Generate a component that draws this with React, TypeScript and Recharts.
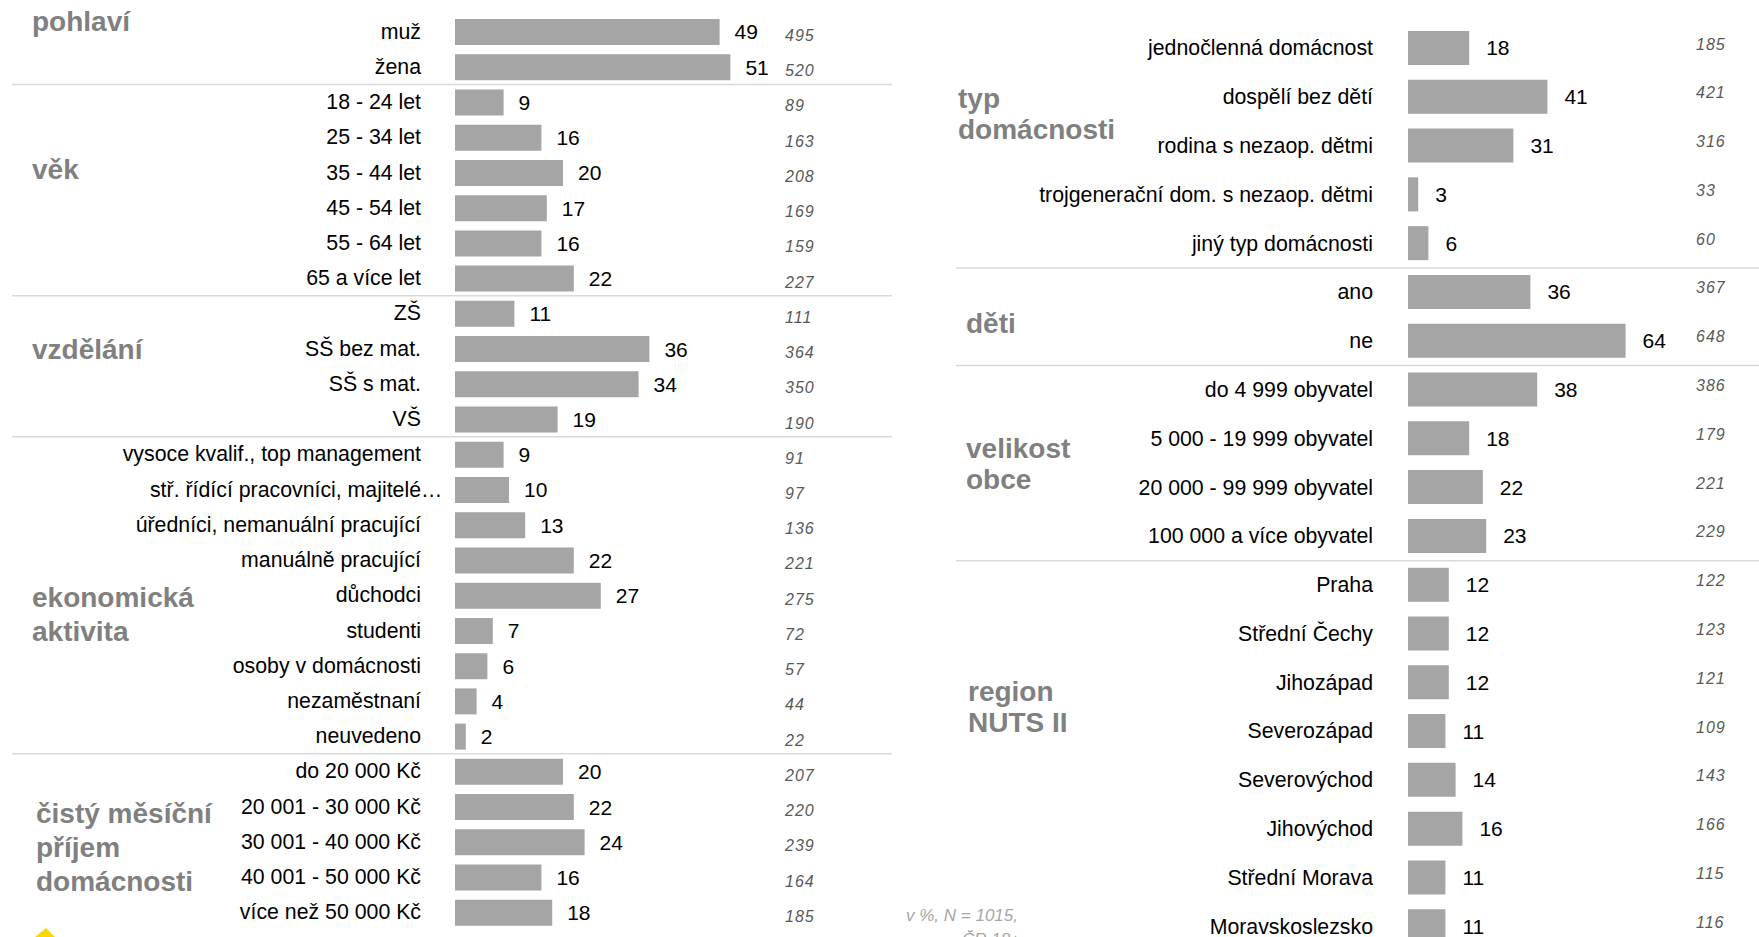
import React from 'react';
import { BarChart, Bar, XAxis, YAxis, LabelList } from 'recharts';

// ---------- DATA ----------
const leftCategories = [
  'muž', 'žena',
  '18 - 24 let', '25 - 34 let', '35 - 44 let', '45 - 54 let', '55 - 64 let', '65 a více let',
  'ZŠ', 'SŠ bez mat.', 'SŠ s mat.', 'VŠ',
  'vysoce kvalif., top management', 'stř. řídící pracovníci, majitelé…', 'úředníci, nemanuální pracující',
  'manuálně pracující', 'důchodci', 'studenti', 'osoby v domácnosti', 'nezaměstnaní', 'neuvedeno',
  'do 20 000 Kč', '20 001 - 30 000 Kč', '30 001 - 40 000 Kč', '40 001 - 50 000 Kč', 'více než 50 000 Kč',
];
const leftValues = [49, 51, 9, 16, 20, 17, 16, 22, 11, 36, 34, 19, 9, 10, 13, 22, 27, 7, 6, 4, 2, 20, 22, 24, 16, 18];
const leftCounts = [495, 520, 89, 163, 208, 169, 159, 227, 111, 364, 350, 190, 91, 97, 136, 221, 275, 72, 57, 44, 22, 207, 220, 239, 164, 185];
const leftGroupStarts = [0, 2, 8, 12, 21];
const leftGroupTitles = ['pohlaví', 'věk', 'vzdělání', 'ekonomická\naktivita', 'čistý měsíční\npříjem\ndomácnosti'];

const rightCategories = [
  'jednočlenná domácnost', 'dospělí bez dětí', 'rodina s nezaop. dětmi', 'trojgenerační dom. s nezaop. dětmi', 'jiný typ domácnosti',
  'ano', 'ne',
  'do 4 999 obyvatel', '5 000 - 19 999 obyvatel', '20 000 - 99 999 obyvatel', '100 000 a více obyvatel',
  'Praha', 'Střední Čechy', 'Jihozápad', 'Severozápad', 'Severovýchod', 'Jihovýchod', 'Střední Morava', 'Moravskoslezsko',
];
const rightValues = [18, 41, 31, 3, 6, 36, 64, 38, 18, 22, 23, 12, 12, 12, 11, 14, 16, 11, 11];
const rightCounts = [185, 421, 316, 33, 60, 367, 648, 386, 179, 221, 229, 122, 123, 121, 109, 143, 166, 115, 116];
const rightGroupStarts = [0, 5, 7, 11];
const rightGroupTitles = ['typ\ndomácnosti', 'děti', 'velikost\nobce', 'region\nNUTS II'];

const noteLines = ['v %, N = 1015,', 'ČR 18+'];

// ---------- STYLE / LAYOUT ----------
const FONT = '"Liberation Sans", Arial, Helvetica, sans-serif';
const BAR_COLOR = '#a5a5a5';
const TITLE_COLOR = '#808080';
const N_COLOR = '#595959';
const SEP_COLOR = '#d9d9d9';

const leftData = leftCategories.map((label, i) => ({ label, value: leftValues[i], n: leftCounts[i] }));
const rightData = rightCategories.map((label, i) => ({ label, value: rightValues[i], n: rightCounts[i] }));

const L = { w: 900, h: 937, top: 14, bottom: 7, right: 13, axisW: 455, labelGap: 34, nX: 330, nDy: 3.5, barSize: 26, domainMax: 80, sepX1: 12, sepX2: 892, valOffset: 15 };
const R = { w: 879, h: 960, top: 24, bottom: 9, right: 11, axisW: 528, labelGap: 35, nX: 288, nDy: -4, barSize: 34, domainMax: 100, sepX1: 76, sepX2: 879, valOffset: 17 };

function makeTick(cfg: any, n: number, groupStarts: number[]) {
  const band = (cfg.h - cfg.top - cfg.bottom) / n;
  return (props: any) => {
    const { y, payload, index } = props;
    const text: string = String(payload.value);
    const x = cfg.axisW - cfg.labelGap;
    const hasEllipsis = text.endsWith('…');
    const main = hasEllipsis ? text.slice(0, -1) : text;
    return (
      <g>
        {groupStarts.includes(index) && index !== 0 && (
          <line x1={cfg.sepX1} x2={cfg.sepX2} y1={y - band / 2} y2={y - band / 2} stroke={SEP_COLOR} strokeWidth={1.5} />
        )}
        <text x={x} y={y} textAnchor="end" dominantBaseline="central" fill="#000" fontSize={21.3} fontFamily={FONT}>
          {main}
        </text>
        {hasEllipsis && (
          <text x={x} y={y} textAnchor="start" dominantBaseline="central" fill="#000" fontSize={21.3} fontFamily={FONT}>
            …
          </text>
        )}
      </g>
    );
  };
}

function makeCount(cfg: any) {
  return (props: any) => {
    const vb = props.viewBox || props;
    const bx = vb.x ?? props.x;
    const by = vb.y ?? props.y;
    const bh = vb.height ?? props.height;
    return (
      <text
        x={bx + cfg.nX}
        y={by + bh / 2 + cfg.nDy}
        dominantBaseline="central"
        fill={N_COLOR}
        fontSize={16}
        fontStyle="italic"
        letterSpacing={1}
        fontFamily={FONT}
      >
        {props.value}
      </text>
    );
  };
}

function Panel({ cfg, data, groupStarts }: any) {
  return (
    <BarChart
      layout="vertical"
      width={cfg.w}
      height={cfg.h}
      data={data}
      margin={{ top: cfg.top, bottom: cfg.bottom, left: 0, right: cfg.right }}
    >
      <XAxis type="number" domain={[0, cfg.domainMax]} hide />
      <YAxis
        type="category"
        dataKey="label"
        width={cfg.axisW}
        axisLine={false}
        tickLine={false}
        tickSize={0}
        tickMargin={0}
        interval={0}
        tick={makeTick(cfg, data.length, groupStarts)}
      />
      <Bar dataKey="value" fill={BAR_COLOR} barSize={cfg.barSize} isAnimationActive={false}>
        <LabelList dataKey="value" position="right" offset={cfg.valOffset} fill="#000" fontSize={21} fontFamily={FONT} />
        <LabelList dataKey="n" content={makeCount(cfg)} />
      </Bar>
    </BarChart>
  );
}

const titleStyle: React.CSSProperties = {
  position: 'absolute',
  fontFamily: FONT,
  fontWeight: 'bold',
  fontSize: 28,
  color: TITLE_COLOR,
  whiteSpace: 'pre',
};

// title anchor positions (page px) per group
const leftTitlePos = [
  { left: 32, top: 5, lineHeight: '34px' },
  { left: 32, top: 153, lineHeight: '34px' },
  { left: 32, top: 333, lineHeight: '34px' },
  { left: 32, top: 581, lineHeight: '34px' },
  { left: 36, top: 797, lineHeight: '34px' },
];
const rightTitlePos = [
  { left: 958, top: 83, lineHeight: '31.4px' },
  { left: 966, top: 308, lineHeight: '31.4px' },
  { left: 966, top: 433, lineHeight: '31.4px' },
  { left: 968, top: 676, lineHeight: '31.4px' },
];

export default function App() {
  return (
    <div
      style={{
        position: 'absolute',
        left: 0,
        top: 0,
        width: 1759,
        height: 937,
        overflow: 'hidden',
        background: '#fff',
        fontFamily: FONT,
      }}
    >
      <div style={{ position: 'absolute', left: 0, top: 0 }}>
        <Panel cfg={L} data={leftData} groupStarts={leftGroupStarts} />
      </div>
      <div style={{ position: 'absolute', left: 880, top: 0 }}>
        <Panel cfg={R} data={rightData} groupStarts={rightGroupStarts} />
      </div>
      {leftGroupTitles.map((t, i) => (
        <div key={'lt' + i} style={{ ...titleStyle, ...leftTitlePos[i] }}>{t}</div>
      ))}
      {rightGroupTitles.map((t, i) => (
        <div key={'rt' + i} style={{ ...titleStyle, ...rightTitlePos[i] }}>{t}</div>
      ))}
      <div
        style={{
          position: 'absolute',
          left: 906,
          top: 904,
          fontFamily: FONT,
          fontStyle: 'italic',
          fontSize: 17,
          lineHeight: '24px',
          color: '#a6a6a6',
          whiteSpace: 'pre',
        }}
      >
        {noteLines[0]}
        {'\n'}
        <span style={{ marginLeft: 56 }}>{noteLines[1]}</span>
      </div>
      <svg style={{ position: 'absolute', left: 0, top: 0 }} width={80} height={937}>
        <polygon points="35,937 46,928 55,937" fill="#ffd500" />
      </svg>
    </div>
  );
}
